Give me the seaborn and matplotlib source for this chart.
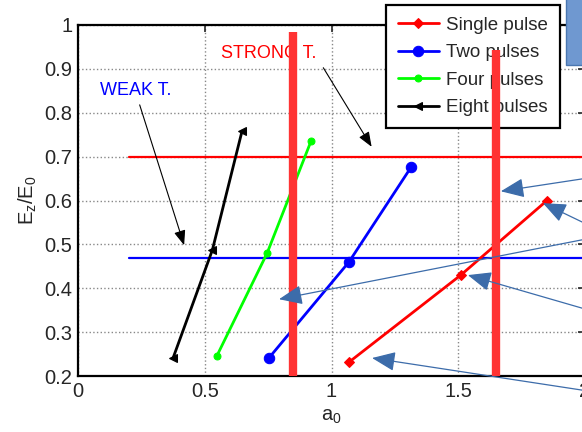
import matplotlib
matplotlib.use("Agg")
import matplotlib.pyplot as plt
from matplotlib.patches import Rectangle
import seaborn as sns
import pandas as pd

# ---- data ----
single_x = [1.07, 1.51, 1.85]
single_y = [0.232, 0.43, 0.60]
two_x = [0.753, 1.069, 1.314]
two_y = [0.241, 0.46, 0.676]
four_x = [0.548, 0.746, 0.919]
four_y = [0.246, 0.48, 0.735]
eight_x = [0.375, 0.53, 0.647]
eight_y = [0.241, 0.487, 0.758]

strong_level = 0.70
weak_level = 0.47
threshold_start = 0.2
bar_x = [0.848, 1.649]
bar_top = [0.984, 0.943]

series_names = ["Single pulse", "Two pulses", "Four pulses", "Eight pulses"]
xticks = [0, 0.5, 1, 1.5, 2]
xtick_labels = ["0", "0.5", "1", "1.5", "2"]
yticks = [0.2, 0.3, 0.4, 0.5, 0.6, 0.7, 0.8, 0.9, 1.0]
ytick_labels = ["0.2", "0.3", "0.4", "0.5", "0.6", "0.7", "0.8", "0.9", "1"]

# blue pointer arrows: (head x, head y, tail x, tail y)
ptr_head_x = [1.668, 1.834, 0.793, 1.16, 1.538]
ptr_head_y = [0.621, 0.594, 0.375, 0.241, 0.43]
ptr_tail_x = [2.1, 2.1, 2.1, 2.1, 2.1]
ptr_tail_y = [0.659, 0.52, 0.523, 0.158, 0.336]

sns.set_style("white")
plt.rcParams["font.family"] = ["Liberation Sans", "DejaVu Sans"]
plt.rcParams["mathtext.default"] = "regular"

fig = plt.figure(figsize=(5.82, 4.32), dpi=100)
ax = fig.add_axes([78 / 582, 1 - 376 / 432, (585 - 78) / 582, (376 - 25) / 432])

frames = []
for name, xs, ys in [(series_names[0], single_x, single_y),
                     (series_names[1], two_x, two_y),
                     (series_names[2], four_x, four_y),
                     (series_names[3], eight_x, eight_y)]:
    frames.append(pd.DataFrame({"a0": xs, "E": ys, "series": name}))
df = pd.concat(frames, ignore_index=True)

styles = {
    "Single pulse": dict(color="#FF0000", marker="D", ms=5.5),
    "Two pulses": dict(color="#0000FF", marker="o", ms=7.5),
    "Four pulses": dict(color="#00FF00", marker="o", ms=5),
    "Eight pulses": dict(color="black", marker="<", ms=6),
}
for name in series_names:
    st = styles[name]
    sns.lineplot(data=df[df["series"] == name], x="a0", y="E", ax=ax,
                 color=st["color"], marker=st["marker"], markersize=st["ms"],
                 markeredgecolor=st["color"], linewidth=2.0, label=name,
                 sort=False, estimator=None, zorder=4)

# threshold lines
ax.plot([threshold_start, 2.0], [strong_level, strong_level], color="#FF0000", lw=1.6, zorder=3)
ax.plot([threshold_start, 2.0], [weak_level, weak_level], color="#0000FF", lw=1.6, zorder=3)

ax.set_xlim(0, 2)
ax.set_ylim(0.2, 1.0)
ax.set_xticks(xticks)
ax.set_xticklabels(xtick_labels)
ax.set_yticks(yticks)
ax.set_yticklabels(ytick_labels)
ax.tick_params(direction="in", length=5, width=1.2, labelsize=14.5, top=True, right=True, pad=4)
ax.grid(True, linestyle=":", color="#888888", linewidth=1.0)
for sp in ax.spines.values():
    sp.set_linewidth(1.6)
    sp.set_color("black")

ax.set_xlabel("a$_0$", fontsize=14.5, labelpad=5)
ax.set_ylabel("E$_z$/E$_0$", fontsize=14.5, labelpad=4)

leg = ax.legend(loc="upper left", bbox_to_anchor=(386 / 582, 1 - 5 / 432),
                bbox_transform=fig.transFigure, fontsize=13.5, frameon=True,
                fancybox=False, framealpha=1, edgecolor="black", borderaxespad=0,
                handlelength=2.2, borderpad=0.62, labelspacing=0.55, handletextpad=0.4)
leg.get_frame().set_linewidth(1.6)
leg.set_zorder(5)

# thick red vertical bars
for bx, bt in zip(bar_x, bar_top):
    ax.plot([bx, bx], [0.2, bt], color="#FF3333", lw=6, solid_capstyle="butt",
            zorder=10, clip_on=False)

# text annotations
ax.text(0.087, 0.851, "WEAK T.", color="#0000FF", fontsize=13, ha="left", va="center")
ax.text(0.564, 0.936, "STRONG T.", color="#FF0000", fontsize=13, ha="left", va="center")
ax.annotate("", xy=(0.422, 0.492), xytext=(0.24, 0.824),
            arrowprops=dict(arrowstyle="-|>,head_length=0.9,head_width=0.35",
                            color="black", lw=0.8, mutation_scale=10), zorder=6)
ax.annotate("", xy=(1.164, 0.717), xytext=(0.962, 0.908),
            arrowprops=dict(arrowstyle="-|>,head_length=0.9,head_width=0.35",
                            color="black", lw=0.8, mutation_scale=10), zorder=6)

# blue pointer arrows
for hx, hy, tx, ty in zip(ptr_head_x, ptr_head_y, ptr_tail_x, ptr_tail_y):
    ann = ax.annotate("", xy=(hx, hy), xytext=(tx, ty), annotation_clip=False,
                      arrowprops=dict(arrowstyle="-|>,head_length=1.2,head_width=0.5",
                                      color="#3C6CAA", lw=0.9, mutation_scale=12,
                                      shrinkA=0, shrinkB=0), zorder=11)
    ann.arrow_patch.set_clip_on(False)

# blue box at top right (slide element)
fig.add_artist(Rectangle((566 / 582, 1 - 65 / 432), 30 / 582, 70 / 432,
                         transform=fig.transFigure, facecolor="#6F98D0",
                         edgecolor="#4A76B0", lw=1.0, zorder=20))

fig.savefig("out.png", dpi=100)
